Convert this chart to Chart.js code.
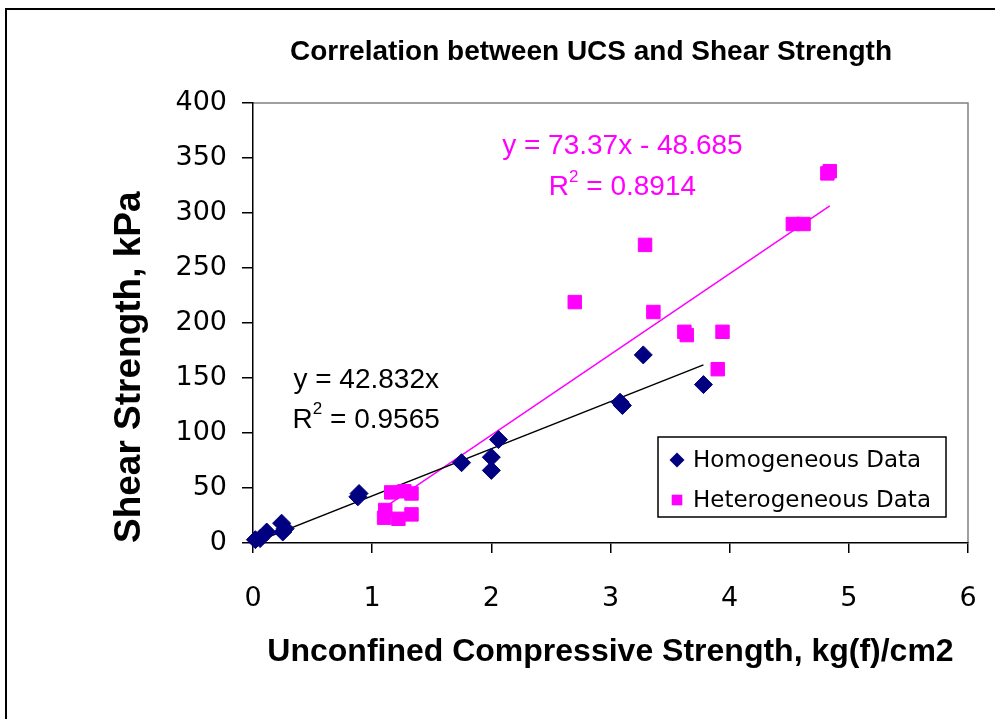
<!DOCTYPE html>
<html>
<head>
<meta charset="utf-8">
<script src="https://cdn.jsdelivr.net/npm/chart.js@4.4.1/dist/chart.umd.min.js"></script>
<style>
  html, body { margin: 0; padding: 0; background: #fff; }
  #wrap { width: 995px; height: 719px; position: relative; }
</style>
</head>
<body>
<div id="wrap"><canvas id="chart"></canvas></div>
<script>
// values
const homUCS = [0.02, 0.06, 0.115, 0.24, 0.27, 0.25, 0.88, 0.89, 1.75, 2.0, 2.0, 2.06, 3.08, 3.1, 3.275, 3.78];
const homShear = [3, 4, 10, 18, 13, 10, 42, 45, 73, 78, 66, 94, 128, 125, 171, 144];
const hetUCS = [1.10, 1.11, 1.16, 1.22, 1.27, 1.33, 1.33, 2.70, 3.29, 3.36, 3.62, 3.64, 3.90, 3.94, 4.53, 4.62, 4.82, 4.84];
const hetShear = [23, 30, 46, 22, 47, 45, 26, 219, 271, 210, 192, 189, 158, 192, 290, 290, 336, 338];

// trendline ends
const homTrendX = [0, 3.78];
const homTrendY = [0, 161.9];
const hetTrendX = [1.08, 4.84];
const hetTrendY = [30.6, 306.4];

const seriesNames = ["Homogeneous Data", "Heterogeneous Data"];
const chartTitle = "Correlation between UCS and Shear Strength";
const xTitle = "Unconfined Compressive Strength, kg(f)/cm2";
const yTitle = "Shear Strength, kPa";
const homEquation = ["y = 42.832x", "0.9565"];
const hetEquation = ["y = 73.37x - 48.685", "0.8914"];

const NAVY = "#000080";
const MAGENTA = "#ff00ff";

function toPoints(xs, ys) {
  return xs.map((x, i) => ({ x: x, y: ys[i] }));
}

function drawR2(ctx, value, cx, cy, size) {
  const main = size + 'px "Liberation Sans", Arial, sans-serif';
  const sup = Math.round(size * 0.62) + 'px "Liberation Sans", Arial, sans-serif';
  ctx.font = main;
  const wR = ctx.measureText("R").width;
  const wRest = ctx.measureText(" = " + value).width;
  ctx.font = sup;
  const wS = ctx.measureText("2").width;
  let x = cx - (wR + wS + wRest) / 2;
  ctx.textAlign = "left";
  ctx.textBaseline = "middle";
  ctx.font = main;
  ctx.fillText("R", x, cy);
  x += wR;
  ctx.font = sup;
  ctx.fillText("2", x, cy - size * 0.38);
  x += wS;
  ctx.font = main;
  ctx.fillText(" = " + value, x, cy);
}

const decor = {
  id: "decor",
  beforeDraw(chart) {
    const ctx = chart.ctx;
    const a = chart.chartArea;
    ctx.save();
    ctx.fillStyle = "#fff";
    ctx.fillRect(0, 0, chart.width, chart.height);
    ctx.strokeStyle = "#000";
    ctx.lineWidth = 2;
    ctx.strokeRect(6, 9, 1100, 800);

    ctx.strokeStyle = "#808080";
    ctx.lineWidth = 1.5;
    ctx.beginPath();
    ctx.moveTo(a.left, a.top);
    ctx.lineTo(a.right, a.top);
    ctx.lineTo(a.right, a.bottom);
    ctx.stroke();

    ctx.fillStyle = "#000";
    ctx.font = 'bold 28px "Liberation Sans", Arial, sans-serif';
    ctx.textAlign = "center";
    ctx.textBaseline = "middle";
    ctx.fillText(chartTitle, 591, 52);
    ctx.restore();
  },
  afterDatasetsDraw(chart) {
    const ctx = chart.ctx;
    const xs = chart.scales.x;
    const ys = chart.scales.y;
    ctx.save();

    // equations
    ctx.fillStyle = "#000";
    ctx.font = '28px "Liberation Sans", Arial, sans-serif';
    ctx.textAlign = "center";
    ctx.textBaseline = "middle";
    ctx.fillText(homEquation[0], xs.getPixelForValue(0.95), ys.getPixelForValue(148));
    drawR2(ctx, homEquation[1], xs.getPixelForValue(0.95), ys.getPixelForValue(112), 28);

    ctx.fillStyle = MAGENTA;
    ctx.font = '28px "Liberation Sans", Arial, sans-serif';
    ctx.textAlign = "center";
    ctx.fillText(hetEquation[0], xs.getPixelForValue(3.1), ys.getPixelForValue(361));
    drawR2(ctx, hetEquation[1], xs.getPixelForValue(3.1), ys.getPixelForValue(323), 28);

    // legend box
    const lx = 658, ly = 437, lw = 288, lh = 80;
    ctx.fillStyle = "#fff";
    ctx.fillRect(lx, ly, lw, lh);
    ctx.strokeStyle = "#000";
    ctx.lineWidth = 1.5;
    ctx.strokeRect(lx, ly, lw, lh);

    const rows = [
      { style: "rectRot", color: NAVY, radius: 7.5, y: ly + 23 },
      { style: "rect", color: MAGENTA, radius: 7.5, y: ly + 63 },
    ];
    rows.forEach((r, i) => {
      ctx.fillStyle = r.color;
      ctx.strokeStyle = r.color;
      Chart.helpers.drawPoint(ctx, { pointStyle: r.style, radius: r.radius, rotation: 0, borderWidth: 0 }, lx + 19, r.y);
      ctx.fillStyle = "#000";
      ctx.font = '23px "DejaVu Sans", sans-serif';
      ctx.textAlign = "left";
      ctx.textBaseline = "middle";
      ctx.fillText(seriesNames[i], lx + 35, r.y + 1);
    });
    ctx.restore();
  },
};

const tickFont = { family: '"DejaVu Sans", sans-serif', size: 27 };

const chart = new Chart(document.getElementById("chart"), {
  type: "scatter",
  data: {
    datasets: [
      {
        label: seriesNames[0],
        data: toPoints(homUCS, homShear),
        pointStyle: "rectRot",
        pointRadius: 9,
        pointBackgroundColor: NAVY,
        pointBorderColor: NAVY,
        pointBorderWidth: 1,
        clip: false,
        order: 1,
      },
      {
        label: seriesNames[1],
        data: toPoints(hetUCS, hetShear),
        pointStyle: "rect",
        pointRadius: 9.5,
        pointBackgroundColor: MAGENTA,
        pointBorderColor: MAGENTA,
        pointBorderWidth: 1,
        clip: false,
        order: 2,
      },
      {
        label: "homTrend",
        data: toPoints(homTrendX, homTrendY),
        showLine: true,
        borderColor: "#000",
        borderWidth: 1.5,
        pointRadius: 0,
        order: 3,
      },
      {
        label: "hetTrend",
        data: toPoints(hetTrendX, hetTrendY),
        showLine: true,
        borderColor: MAGENTA,
        borderWidth: 1.5,
        pointRadius: 0,
        order: 4,
      },
    ],
  },
  options: {
    responsive: true,
    maintainAspectRatio: false,
    animation: false,
    layout: { padding: { top: 103, right: 27, bottom: 0, left: 0 } },
    plugins: {
      legend: { display: false },
      tooltip: { enabled: false },
      title: { display: false },
    },
    scales: {
      x: {
        type: "linear",
        min: 0,
        max: 6,
        afterFit(scale) {
          scale.height = 176;
          // tick padding would otherwise widen the side gaps
          scale.paddingLeft = 10;
          scale.paddingRight = 10;
        },
        ticks: { stepSize: 1, font: tickFont, color: "#000", padding: 30 },
        grid: { drawOnChartArea: false, tickLength: 10, color: "#000", lineWidth: 1.5 },
        border: { color: "#000", width: 1.5 },
        title: {
          display: true,
          text: xTitle,
          color: "#000",
          font: { family: '"Liberation Sans", Arial, sans-serif', size: 32, weight: "bold" },
          padding: { top: 0, bottom: 48 },
        },
      },
      y: {
        min: 0,
        max: 400,
        afterFit(scale) {
          scale.width = 253;
        },
        ticks: { stepSize: 50, font: tickFont, color: "#000", padding: 15 },
        grid: { drawOnChartArea: false, tickLength: 11, color: "#000", lineWidth: 1.5 },
        border: { color: "#000", width: 1.5 },
        title: {
          display: true,
          text: yTitle,
          align: "start",
          color: "#000",
          font: { family: '"Liberation Sans", Arial, sans-serif', size: 37, weight: "bold" },
          padding: { top: 108, bottom: 0 },
        },
      },
    },
  },
  plugins: [decor],
});
</script>
</body>
</html>
